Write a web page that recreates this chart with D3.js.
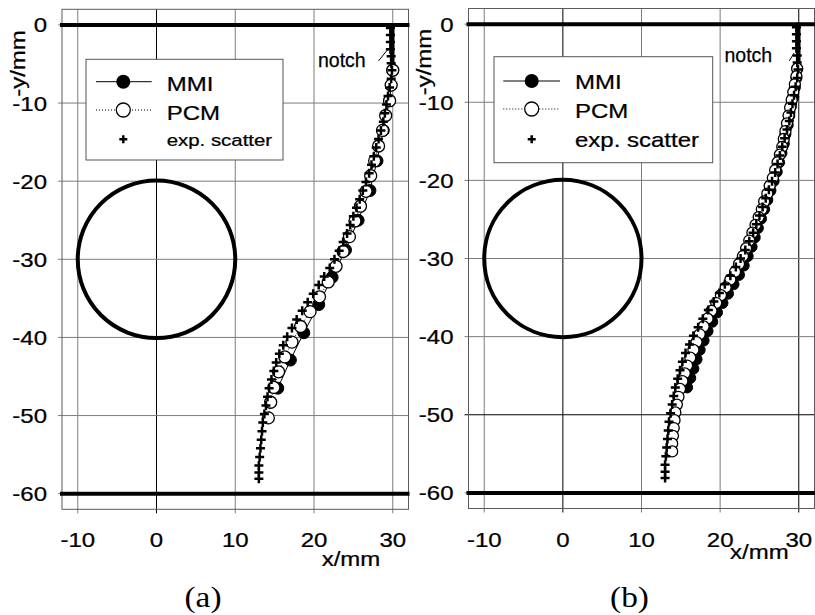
<!DOCTYPE html>
<html><head><meta charset="utf-8">
<script src="https://cdn.jsdelivr.net/npm/d3@7"></script>
<style>html,body{margin:0;padding:0;background:#fff;}svg{display:block;}</style>
</head><body>
<svg id="chart" width="815" height="615"></svg>
<script>
// ---------------- data ----------------
const xTicks = [-10, 0, 10, 20, 30];
const yTicks = [0, -10, -20, -30, -40, -50, -60];
const xDomain = [-12, 32];
const yDomain = [-62, 2];

// hole: centre and radius (mm); plate edges (mm)
const hole = {cx: 0, cy: -30, r: 10};
const edges = [0, -60];
const notchTip = [30, 0, -5.5]; // x, y from, y to

// panel (a)
const mmiA_x = [30.0, 29.6, 28.8, 28.0, 27.1, 25.6, 24.0, 22.3, 20.6, 18.7, 17.0, 15.4];
const mmiA_y = [-5.8, -9.7, -13.5, -17.4, -21.2, -25.0, -28.8, -32.3, -35.8, -39.4, -42.9, -46.5];
const pcmA_x = [30.0, 29.8, 29.6, 29.1, 28.7, 28.2, 27.7, 27.2, 26.6, 25.9, 25.2, 24.5, 23.7, 22.8, 21.8, 20.7, 19.5, 18.3, 17.2, 16.3, 15.5, 14.9, 14.5, 14.2];
const pcmA_y = [-5.8, -7.7, -9.7, -11.6, -13.5, -15.5, -17.4, -19.3, -21.3, -23.2, -25.1, -27.1, -29.0, -30.9, -32.9, -34.8, -36.7, -38.6, -40.6, -42.5, -44.4, -46.4, -48.3, -50.3];

// panel (b)
const mmiB_x = [29.8, 29.7, 29.5, 29.3, 29.0, 28.8, 28.6, 28.3, 28.1, 27.8, 27.5, 27.2, 26.8, 26.4, 26.0, 25.6, 25.2, 24.8, 24.4, 24.0, 23.5, 23.0, 22.4, 21.7, 21.0, 20.3, 19.6, 19.0, 18.4, 17.9, 17.4, 17.0, 16.6, 16.2, 15.8];
const mmiB_y = [-5.7, -6.9, -8.1, -9.3, -10.5, -11.7, -12.9, -14.1, -15.3, -16.5, -17.7, -18.9, -20.1, -21.3, -22.5, -23.7, -24.9, -26.1, -27.3, -28.5, -29.7, -30.9, -32.1, -33.3, -34.5, -35.7, -36.9, -38.1, -39.3, -40.5, -41.7, -42.9, -44.1, -45.3, -46.5];
const pcmB_x = [29.8, 29.7, 29.5, 29.3, 29.1, 28.9, 28.7, 28.5, 28.3, 28.1, 27.9, 27.6, 27.3, 27.0, 26.7, 26.3, 26.0, 25.6, 25.3, 24.9, 24.5, 24.1, 23.7, 23.3, 22.9, 22.4, 21.9, 21.3, 20.7, 20.1, 19.5, 18.9, 18.4, 17.9, 17.4, 17.0, 16.6, 16.2, 15.8, 15.5, 15.2, 14.9, 14.7, 14.5, 14.3, 14.2, 14.1, 14.0, 13.9, 13.9];
const pcmB_y = [-5.7, -6.7, -7.7, -8.7, -9.7, -10.7, -11.7, -12.7, -13.7, -14.7, -15.7, -16.7, -17.7, -18.7, -19.7, -20.7, -21.7, -22.7, -23.7, -24.7, -25.7, -26.7, -27.7, -28.7, -29.7, -30.7, -31.7, -32.7, -33.7, -34.7, -35.7, -36.7, -37.7, -38.7, -39.7, -40.7, -41.7, -42.7, -43.7, -44.7, -45.7, -46.7, -47.7, -48.7, -49.7, -50.7, -51.7, -52.7, -53.7, -54.7];

// experimental crack path (same experiment in both panels)
const exp_x = [29.7, 29.7, 29.7, 29.7, 29.8, 29.8, 29.9, 29.8, 29.6, 29.4, 29.2, 29.0, 28.8, 28.5, 28.2, 27.9, 27.6, 27.3, 27.0, 26.6, 26.2, 25.8, 25.4, 25.0, 24.6, 24.2, 23.7, 23.2, 22.6, 22.0, 21.3, 20.6, 19.9, 19.2, 18.5, 17.8, 17.2, 16.6, 16.1, 15.6, 15.2, 14.9, 14.6, 14.3, 14.1, 13.9, 13.7, 13.5, 13.4, 13.3, 13.2, 13.1, 13.0, 13.0, 13.0];
const exp_y = [-0.4, -1.3, -2.2, -3.1, -4.0, -4.9, -5.8, -6.9, -8.0, -9.1, -10.2, -11.3, -12.4, -13.5, -14.6, -15.7, -16.8, -17.9, -19.0, -20.1, -21.2, -22.3, -23.4, -24.5, -25.6, -26.7, -27.8, -28.9, -30.0, -31.1, -32.2, -33.3, -34.4, -35.5, -36.6, -37.7, -38.8, -39.9, -41.0, -42.1, -43.2, -44.3, -45.4, -46.5, -47.6, -48.7, -49.8, -50.9, -52.0, -53.1, -54.2, -55.3, -56.4, -57.3, -58.1];

const legendLabels = ["MMI", "PCM", "exp. scatter"];
const panelLabels = ["(a)", "(b)"];
const axisLabelX = "x/mm";
const axisLabelY = "-y/mm";
const notchLabel = "notch";

// ---------------- drawing ----------------
const svg = d3.select("#chart");
const SANS = "'Liberation Sans', Arial, Helvetica, sans-serif";
const SERIF = "'Liberation Serif', 'Times New Roman', serif";
const GRID = "#7c7c7c";

function txt(g, x, y, s, o) {
  o = o || {};
  const sx = o.sx || 1, rot = o.rot || 0;
  return g.append("text")
    .attr("transform", `translate(${x},${y}) rotate(${rot}) scale(${sx},1)`)
    .attr("font-family", o.family || SANS)
    .attr("font-size", o.size || 20)
    .attr("text-anchor", o.anchor || "start")
    .attr("fill", "#000")
    .attr("stroke", o.family ? "none" : "#000")
    .attr("stroke-width", o.family ? 0 : 0.25)
    .text(s);
}

const zip = (xs, ys) => xs.map((x, i) => ({x, y: ys[i]}));

const panels = [
  {
    xr: [62, 408.5], yr: [9.3, 509.3],
    mmi: zip(mmiA_x, mmiA_y), pcm: zip(pcmA_x, pcmA_y), r: 6,
    blackV: [0], blackH: [],
    yLblRight: 47, xLblBase: 546.5,
    xAxis: [321.7, 566], yAxis: [25, 63.5],
    legend: {x: 86, y: 59.3, w: 197, h: 100.7, lx0: 96, lx1: 151.7, mx: 123.3,
             rows: [81.7, 110, 139.3], tx: 166.7, base: [90.7, 120, 145.7], sizes: [20, 20, 17]},
    notch: {tx: 318, ty: 66.7, lead: [[28.2, -4.6], [29.4, -3.1]]},
    label: [203, 607]
  },
  {
    xr: [468.5, 814.5], yr: [8.5, 508.5],
    mmi: zip(mmiB_x, mmiB_y), pcm: zip(pcmB_x, pcmB_y), r: 5.5,
    blackV: [0, 30], blackH: [-50],
    yLblRight: 453.5, xLblBase: 546.5,
    xAxis: [730, 558.5], yAxis: [431, 62],
    legend: {x: 494, y: 56.7, w: 218.7, h: 106, lx0: 503.3, lx1: 560, mx: 531.7,
             rows: [81, 109, 139.3], tx: 575, base: [89.3, 118.3, 146.5], sizes: [20, 20, 20]},
    notch: {tx: 724.5, ty: 61.7, lead: [[28.8, -4.7], [29.4, -3.7]]},
    label: [629.5, 607]
  }
];

const expPts = zip(exp_x, exp_y);

panels.forEach((P, pi) => {
  const x = d3.scaleLinear().domain(xDomain).range(P.xr);
  const y = d3.scaleLinear().domain(yDomain).range([P.yr[1], P.yr[0]]);
  const g = svg.append("g");

  // grid
  g.selectAll(".gv").data(xTicks).join("line")
    .attr("x1", d => x(d)).attr("x2", d => x(d))
    .attr("y1", P.yr[0]).attr("y2", P.yr[1] + 4)
    .attr("stroke", d => P.blackV.includes(d) ? "#000" : GRID).attr("stroke-width", 1);
  g.selectAll(".gh").data(yTicks).join("line")
    .attr("x1", P.xr[0] - 4).attr("x2", P.xr[1])
    .attr("y1", d => y(d)).attr("y2", d => y(d))
    .attr("stroke", d => P.blackH.includes(d) ? "#000" : GRID).attr("stroke-width", 1);

  // frame
  g.append("rect").attr("x", P.xr[0]).attr("y", P.yr[0])
    .attr("width", P.xr[1] - P.xr[0]).attr("height", P.yr[1] - P.yr[0])
    .attr("fill", "none").attr("stroke", "#5a5a5a").attr("stroke-width", 1);

  // tick labels
  xTicks.forEach(t => txt(g, x(t), P.xLblBase, String(t), {anchor: "middle", size: 20, sx: 1.2}));
  yTicks.forEach(t => txt(g, P.yLblRight, y(t) + 7.5, String(t), {anchor: "end", size: 20, sx: 1.2}));

  // axis titles
  txt(g, P.xAxis[0], P.xAxis[1], axisLabelX, {size: 20, sx: 1.2});
  txt(g, P.yAxis[0], P.yAxis[1], axisLabelY, {size: 20, sx: 1.2, rot: -90, anchor: "middle"});

  // plate edges
  g.selectAll(".edge").data(edges).join("line")
    .attr("x1", P.xr[0] - 2).attr("x2", P.xr[1] + 1)
    .attr("y1", d => y(d)).attr("y2", d => y(d))
    .attr("stroke", "#000").attr("stroke-width", 4);

  // hole
  g.append("circle").attr("cx", x(hole.cx)).attr("cy", y(hole.cy))
    .attr("r", x(hole.r) - x(0))
    .attr("fill", "none").attr("stroke", "#000").attr("stroke-width", 4);

  // notch
  g.append("line").attr("x1", x(notchTip[0])).attr("x2", x(notchTip[0]))
    .attr("y1", y(notchTip[1])).attr("y2", y(notchTip[2]))
    .attr("stroke", "#000").attr("stroke-width", 3.5);
  txt(g, P.notch.tx, P.notch.ty, notchLabel, {size: 19.5});
  g.append("line")
    .attr("x1", x(P.notch.lead[0][0])).attr("y1", y(P.notch.lead[0][1]))
    .attr("x2", x(P.notch.lead[1][0])).attr("y2", y(P.notch.lead[1][1]))
    .attr("stroke", "#000").attr("stroke-width", 1);

  // MMI: solid line + filled circles
  const line = d3.line().x(d => x(d.x)).y(d => y(d.y));
  g.append("path").attr("d", line(P.mmi)).attr("fill", "none").attr("stroke", "#000").attr("stroke-width", 1);
  g.selectAll(".mmi").data(P.mmi).join("circle")
    .attr("cx", d => x(d.x)).attr("cy", d => y(d.y)).attr("r", P.r)
    .attr("fill", "#000").attr("stroke", "#000").attr("stroke-width", 1);

  // PCM: dotted line + open circles
  g.append("path").attr("d", line(P.pcm)).attr("fill", "none").attr("stroke", "#000")
    .attr("stroke-width", 1).attr("stroke-dasharray", "1,2");
  g.selectAll(".pcm").data(P.pcm).join("circle")
    .attr("cx", d => x(d.x)).attr("cy", d => y(d.y)).attr("r", P.r)
    .attr("fill", "#fff").attr("stroke", "#000").attr("stroke-width", 1.3);

  // experimental scatter
  g.selectAll(".exp").data(expPts).join("path")
    .attr("transform", d => `translate(${x(d.x)},${y(d.y)})`)
    .attr("d", "M-4.5,0H4.5M0,-4.5V4.5")
    .attr("stroke", "#000").attr("stroke-width", 2.5).attr("fill", "none");

  // legend
  const L = P.legend;
  g.append("rect").attr("x", L.x).attr("y", L.y).attr("width", L.w).attr("height", L.h)
    .attr("fill", "#fff").attr("stroke", "#555").attr("stroke-width", 1);
  g.append("line").attr("x1", L.lx0).attr("x2", L.lx1).attr("y1", L.rows[0]).attr("y2", L.rows[0])
    .attr("stroke", "#000").attr("stroke-width", 1);
  g.append("circle").attr("cx", L.mx).attr("cy", L.rows[0]).attr("r", 7).attr("fill", "#000");
  g.append("line").attr("x1", L.lx0).attr("x2", L.lx1).attr("y1", L.rows[1]).attr("y2", L.rows[1])
    .attr("stroke", "#000").attr("stroke-width", 1).attr("stroke-dasharray", "1,2");
  g.append("circle").attr("cx", L.mx).attr("cy", L.rows[1]).attr("r", 7)
    .attr("fill", "#fff").attr("stroke", "#000").attr("stroke-width", 1.3);
  g.append("path").attr("transform", `translate(${L.mx},${L.rows[2]})`)
    .attr("d", "M-4,0H4M0,-4V4").attr("stroke", "#000").attr("stroke-width", 2.5);
  legendLabels.forEach((s, i) => txt(g, L.tx, L.base[i], s, {size: L.sizes[i], sx: 1.2}));

  // panel label
  txt(svg, P.label[0], P.label[1], panelLabels[pi], {family: SERIF, size: 29, sx: 1.15, anchor: "middle"});
});
</script>
</body></html>
